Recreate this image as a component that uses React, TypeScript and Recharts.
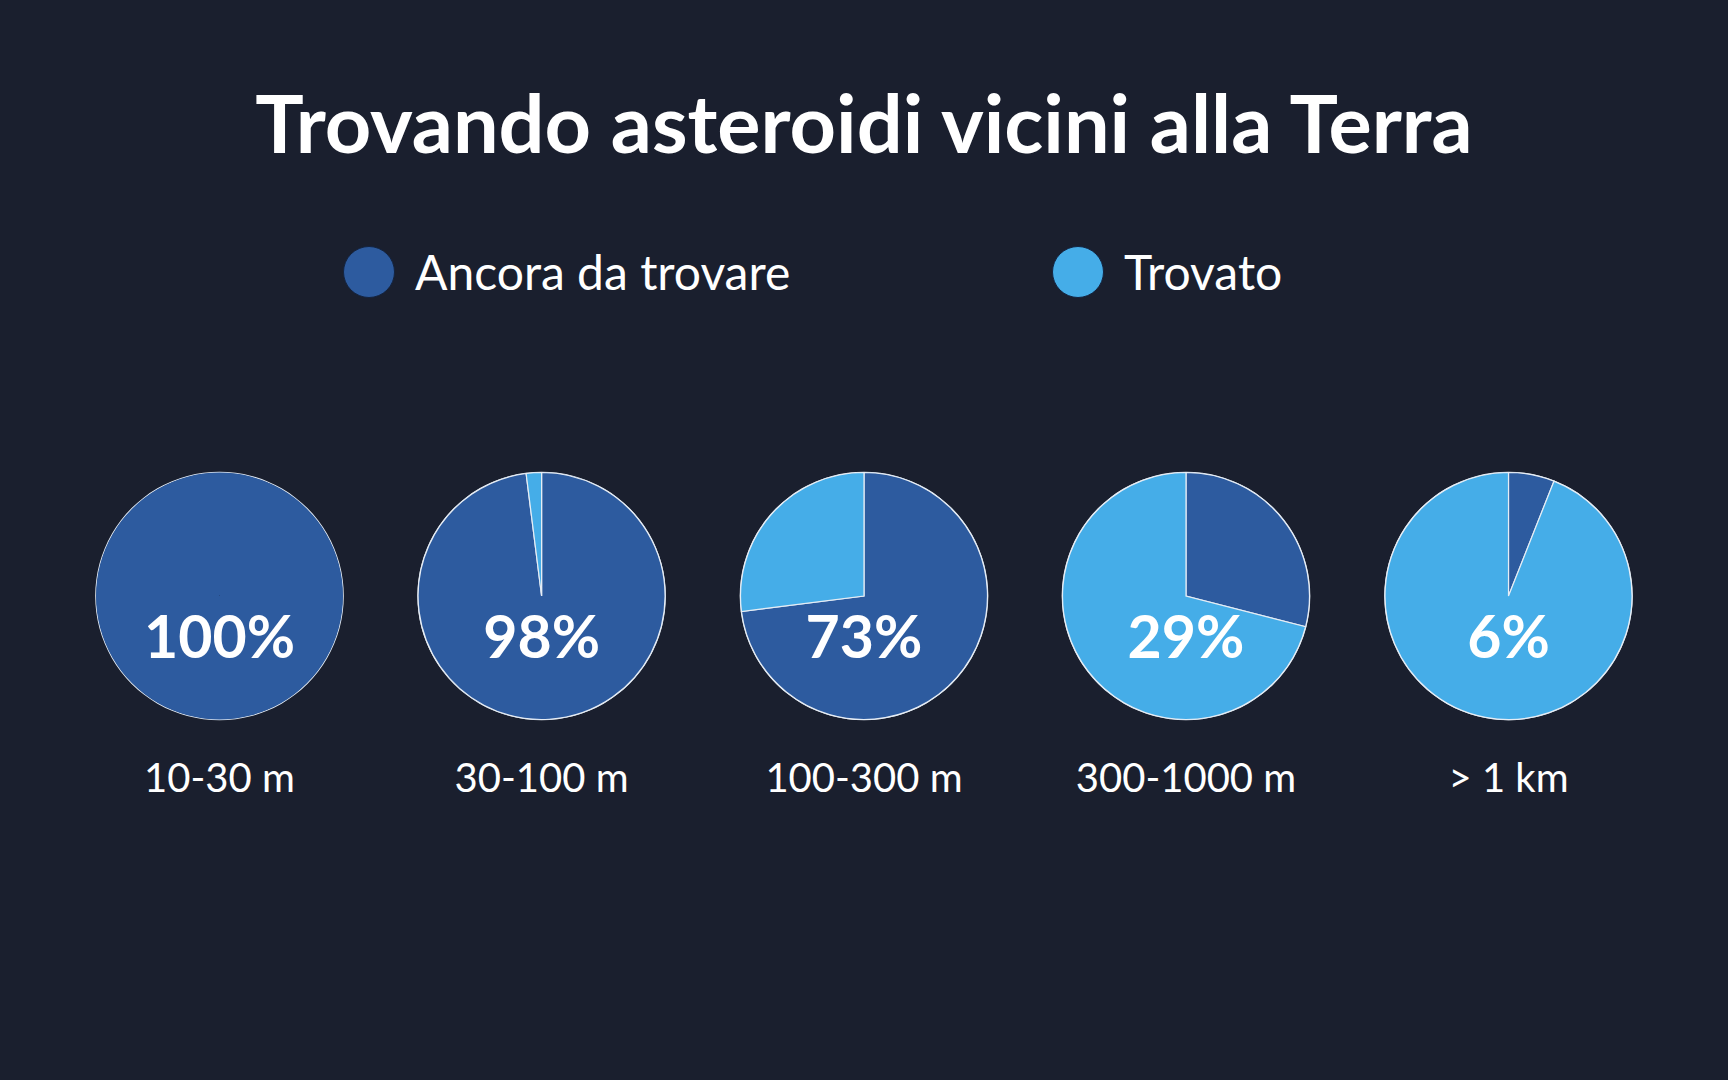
import React from "react";
import { Cell, Pie, PieChart } from "recharts";

const sizeLabels = ["10-30 m", "30-100 m", "100-300 m", "300-1000 m", "> 1 km"];
const notFoundPct = [100, 98, 73, 29, 6];
const foundPct = [0, 2, 27, 71, 94];
const seriesNames = ["Ancora da trovare", "Trovato"];

const BG = "#1a1f2e";
const DARK = "#2d5b9f";
const LIGHT = "#45ade8";
const RIM = "#e6edf5";
const FONT = "Lato, 'Noto Sans', sans-serif";

const W = 1728;
const H = 1080;
const CY = 596;
const R = 123.5;
const centers = [219.5, 541.6, 864, 1186, 1508.5];

function pieData(i: number) {
  return [
    { name: seriesNames[0], value: notFoundPct[i], color: DARK },
    { name: seriesNames[1], value: foundPct[i], color: LIGHT },
  ].filter((d) => d.value > 0);
}

function makeLabel(i: number) {
  return (props: any) => {
    if (props.index !== 0) return null;
    const { cx, cy } = props;
    return (
      <g>
        <text
          x={cx}
          y={cy + 62}
          textAnchor="middle"
          fill="#ffffff"
          fontFamily={FONT}
          fontWeight={700}
          fontSize={59}
        >
          {`${notFoundPct[i]}%`}
        </text>
        <text
          x={cx}
          y={cy + 196}
          textAnchor="middle"
          fill="#ffffff"
          fontFamily={FONT}
          fontSize={40}
        >
          {sizeLabels[i]}
        </text>
      </g>
    );
  };
}

function LegendItem({ x, color, label }: { x: number; color: string; label: string }) {
  return (
    <div style={{ position: "absolute", left: x - 26, top: 246, display: "flex", alignItems: "center" }}>
      <div
        style={{
          width: 50,
          height: 50,
          borderRadius: "50%",
          background: color,
          border: "1px solid #14233f",
        }}
      />
      <span
        style={{
          marginLeft: 20,
          color: "#ffffff",
          fontFamily: FONT,
          fontSize: 48,
          lineHeight: "50px",
        }}
      >
        {label}
      </span>
    </div>
  );
}

export default function App() {
  return (
    <div
      style={{
        position: "absolute",
        left: 0,
        top: 0,
        width: W,
        height: H,
        background: BG,
        overflow: "hidden",
      }}
    >
      <div
        style={{
          position: "absolute",
          left: 0,
          top: 74,
          width: W,
          textAlign: "center",
          color: "#ffffff",
          fontFamily: FONT,
          fontWeight: 700,
          fontSize: 81,
          lineHeight: "96px",
        }}
      >
        Trovando asteroidi vicini alla Terra
      </div>
      <LegendItem x={369} color={DARK} label={seriesNames[0]} />
      <LegendItem x={1078} color={LIGHT} label={seriesNames[1]} />
      <div style={{ position: "absolute", left: 0, top: 0 }}>
        <PieChart width={W} height={H} margin={{ top: 0, right: 0, bottom: 0, left: 0 }}>
          {centers.map((cx, i) => (
            <Pie
              key={`rim-${i}`}
              data={[{ name: "rim", value: 1 }]}
              dataKey="value"
              cx={cx}
              cy={CY}
              innerRadius={R - 0.5}
              outerRadius={R + 0.8}
              startAngle={90}
              endAngle={-270}
              fill={RIM}
              stroke="none"
              isAnimationActive={false}
            />
          ))}
          {centers.map((cx, i) => {
            const data = pieData(i);
            return (
              <Pie
                key={`pie-${i}`}
                data={data}
                dataKey="value"
                nameKey="name"
                cx={cx}
                cy={CY}
                innerRadius={0}
                outerRadius={R}
                startAngle={90}
                endAngle={-270}
                label={makeLabel(i)}
                labelLine={false}
                isAnimationActive={false}
              >
                {data.map((d) => (
                  <Cell
                    key={d.name}
                    fill={d.color}
                    stroke={data.length > 1 ? RIM : "none"}
                    strokeWidth={1.2}
                  />
                ))}
              </Pie>
            );
          })}
        </PieChart>
      </div>
    </div>
  );
}
